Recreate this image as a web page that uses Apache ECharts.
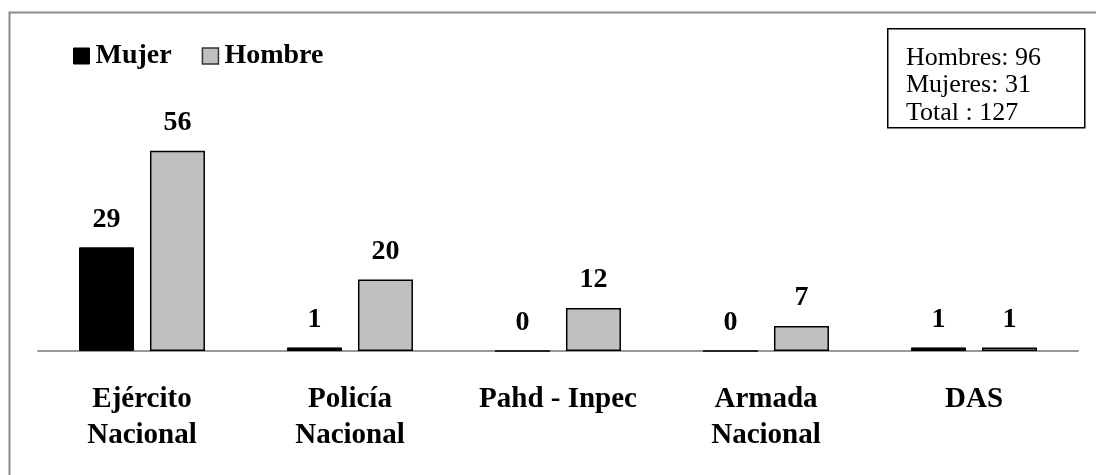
<!DOCTYPE html>
<html>
<head>
<meta charset="utf-8">
<script src="https://cdn.jsdelivr.net/npm/echarts@6/dist/echarts.min.js"></script>
<style>
  html, body { margin: 0; padding: 0; background: #fff; }
  #bar-chart { width: 1096px; height: 475px; }
</style>
</head>
<body>
<div id="bar-chart"></div>
<script>
// datos
const categorias = ['Ejército\nNacional', 'Policía\nNacional', 'Pahd - Inpec', 'Armada\nNacional', 'DAS'];
const mujeres = [29, 1, 0, 0, 1];
const hombres = [56, 20, 12, 7, 1];
const resumen = ['Hombres: 96', 'Mujeres: 31', 'Total : 127'];

const fuente = '"Liberation Serif", "DejaVu Serif", serif';

const etiqueta = {
  show: true,
  position: 'top',
  distance: 14,
  fontFamily: fuente,
  fontSize: 28,
  fontWeight: 'bold',
  color: '#000',
};

const chart = echarts.init(document.getElementById('bar-chart'));
chart.setOption({
  animation: false,
  textStyle: { fontFamily: fuente },
  grid: { left: 38, right: 18, top: 65, bottom: 124 },
  legend: {
    left: 68,
    top: 37,
    itemWidth: 16,
    itemHeight: 16,
    itemGap: 30,
    icon: 'rect',
    textStyle: { fontFamily: fuente, fontSize: 28, fontWeight: 'bold', color: '#000', padding: [0, 0, 0, 1] },
    data: [
      { name: 'Mujer', itemStyle: { color: '#000', borderColor: '#000', borderWidth: 1 } },
      { name: 'Hombre', itemStyle: { color: '#c0c0c0', borderColor: '#333', borderWidth: 1.5 } },
    ],
  },
  xAxis: {
    type: 'category',
    data: categorias,
    axisTick: { show: false },
    axisLine: { lineStyle: { color: '#999', width: 2 } },
    axisLabel: {
      margin: 31,
      fontFamily: fuente,
      fontSize: 29,
      fontWeight: 'bold',
      color: '#000',
      lineHeight: 36,
      interval: 0,
    },
  },
  yAxis: {
    type: 'value',
    min: 0,
    max: 80,
    show: false,
    splitLine: { show: false },
  },
  series: [
    {
      name: 'Mujer',
      type: 'bar',
      data: mujeres,
      barWidth: 55,
      barGap: '29%',
      itemStyle: { color: '#000', borderColor: '#000', borderWidth: 1 },
      label: etiqueta,
    },
    {
      name: 'Hombre',
      type: 'bar',
      data: hombres,
      barWidth: 55,
      itemStyle: { color: '#c0c0c0', borderColor: '#000', borderWidth: 1.5 },
      label: etiqueta,
    },
  ],
  graphic: [
    {
      type: 'rect',
      left: 7,
      top: 10,
      shape: { width: 1200, height: 600 },
      style: { fill: 'none', stroke: '#8c8c8c', lineWidth: 2 },
      silent: true,
      z: -1,
    },
    {
      type: 'rect',
      left: 887,
      top: 28,
      shape: { width: 197, height: 99 },
      style: { fill: '#fff', stroke: '#000', lineWidth: 1.5 },
    },
    {
      type: 'text',
      left: 906,
      top: 44,
      style: {
        text: resumen.join('\n'),
        font: '26px ' + fuente,
        lineHeight: 27.5,
        fill: '#000',
      },
    },
  ],
});
</script>
</body>
</html>
